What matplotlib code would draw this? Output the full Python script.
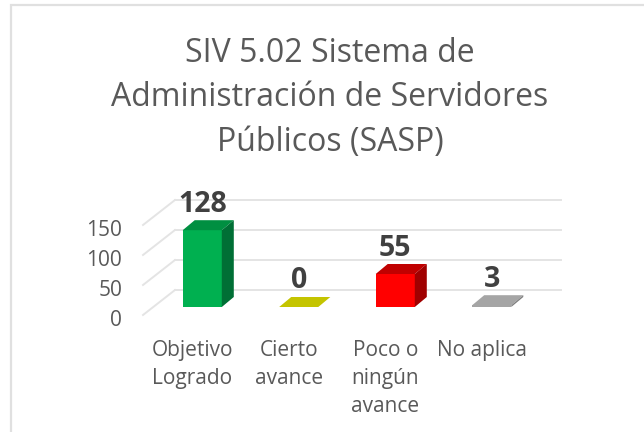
import matplotlib
matplotlib.use("Agg")
import matplotlib.pyplot as plt
from matplotlib.patches import Polygon, Rectangle
from matplotlib.transforms import ScaledTranslation

plt.rcParams['font.family'] = ['Open Sans', 'DejaVu Sans']

categories = ["Objetivo\nLogrado", "Cierto\navance", "Poco o\nningún\navance", "No aplica"]
values = [128, 0, 55, 3]
y_ticks = [0, 50, 100, 150]
front_colors = ["#00B050", "#C4C400", "#FF0000", "#A5A5A5"]
top_colors = ["#008F41", "#C4C400", "#C00000", "#A5A5A5"]
side_colors = ["#006F35", "#9A9A00", "#A00000", "#808080"]
title = "SIV 5.02 Sistema de\nAdministración de Servidores\nPúblicos (SASP)"

W, H = 644, 432
DPI = 100
GRID = "#E4E4E4"
TEXT = "#595959"

fig = plt.figure(figsize=(W / DPI, H / DPI), dpi=DPI)
fig.patch.set_facecolor("white")

# chart frame, runs off the right and bottom of the picture
fig.add_artist(Rectangle((11 / W, -0.05), 1.0, 1.05 - 5.3 / H, transform=fig.transFigure,
                         fill=False, edgecolor="#E0E0E0", linewidth=1.6))

fig.text(330 / W, 1 - 98 / H, title, ha="center", va="center", fontsize=23,
         color=TEXT, linespacing=1.45)

# 1 value unit = 0.6 px, 1 category = 96.5 px, baseline of the bars at y=307
ax = fig.add_axes([154 / W, 1 - 307 / H, 386 / W, 90 / H])
ax.set_xlim(-0.5, 3.5)
ax.set_ylim(0, 150)
ax.patch.set_alpha(0)
for s in ax.spines.values():
    s.set_visible(False)


def shifted(dx, dy):
    return ax.transData + ScaledTranslation(dx / DPI, dy / DPI, fig.dpi_scale_trans)


# back wall gridlines and floor diagonals
x_left = ax.get_xlim()[0]
x_right = ax.get_xlim()[1]
for v in y_ticks:
    ax.plot([x_left, x_right], [v, v], transform=shifted(21, 17), color=GRID, lw=1.4,
            clip_on=False, zorder=1)
    p0 = ax.transData.transform((x_left, v)) + (-11, -8)
    p1 = ax.transData.transform((x_left, v)) + (21, 17)
    ax.plot([p0[0], p1[0]], [p0[1], p1[1]], transform=None, color=GRID, lw=1.4,
            clip_on=False, zorder=1)

bar_w = 0.405
depth_x = 12 / 96.5
depth_y = 10 / 0.6

bars = ax.bar(range(len(values)), values, width=bar_w, color=front_colors, zorder=3, clip_on=False)
for i, b in enumerate(bars):
    x0, x1 = b.get_x(), b.get_x() + b.get_width()
    top = b.get_height()
    ax.add_patch(Polygon([(x0, top), (x1, top), (x1 + depth_x, top + depth_y), (x0 + depth_x, top + depth_y)],
                         facecolor=top_colors[i], edgecolor="none", zorder=3, clip_on=False))
    ax.add_patch(Polygon([(x1, 0), (x1, top), (x1 + depth_x, top + depth_y), (x1 + depth_x, depth_y)],
                         facecolor=side_colors[i], edgecolor="none", zorder=3, clip_on=False))
    ax.annotate(str(values[i]), (i, top), xytext=(0, 26 * 72 / DPI), textcoords="offset points",
                ha="center", va="center", fontsize=20.5, fontweight="bold", color="#404040", zorder=4)

ax.set_yticks(y_ticks)
ax.tick_params(axis="y", length=0, pad=23, labelsize=15, labelcolor=TEXT)
for lab in ax.get_yticklabels():
    lab.set_transform(lab.get_transform() + ScaledTranslation(0, -11.5 / DPI, fig.dpi_scale_trans))

ax.set_xticks(range(len(categories)))
ax.set_xticklabels(categories, linespacing=1.45)
ax.tick_params(axis="x", length=0, pad=23.5, labelsize=15, labelcolor=TEXT)
for lab in ax.get_xticklabels():
    lab.set_transform(lab.get_transform() + ScaledTranslation(-10 / DPI, 0, fig.dpi_scale_trans))

fig.savefig("out.png", dpi=DPI)
